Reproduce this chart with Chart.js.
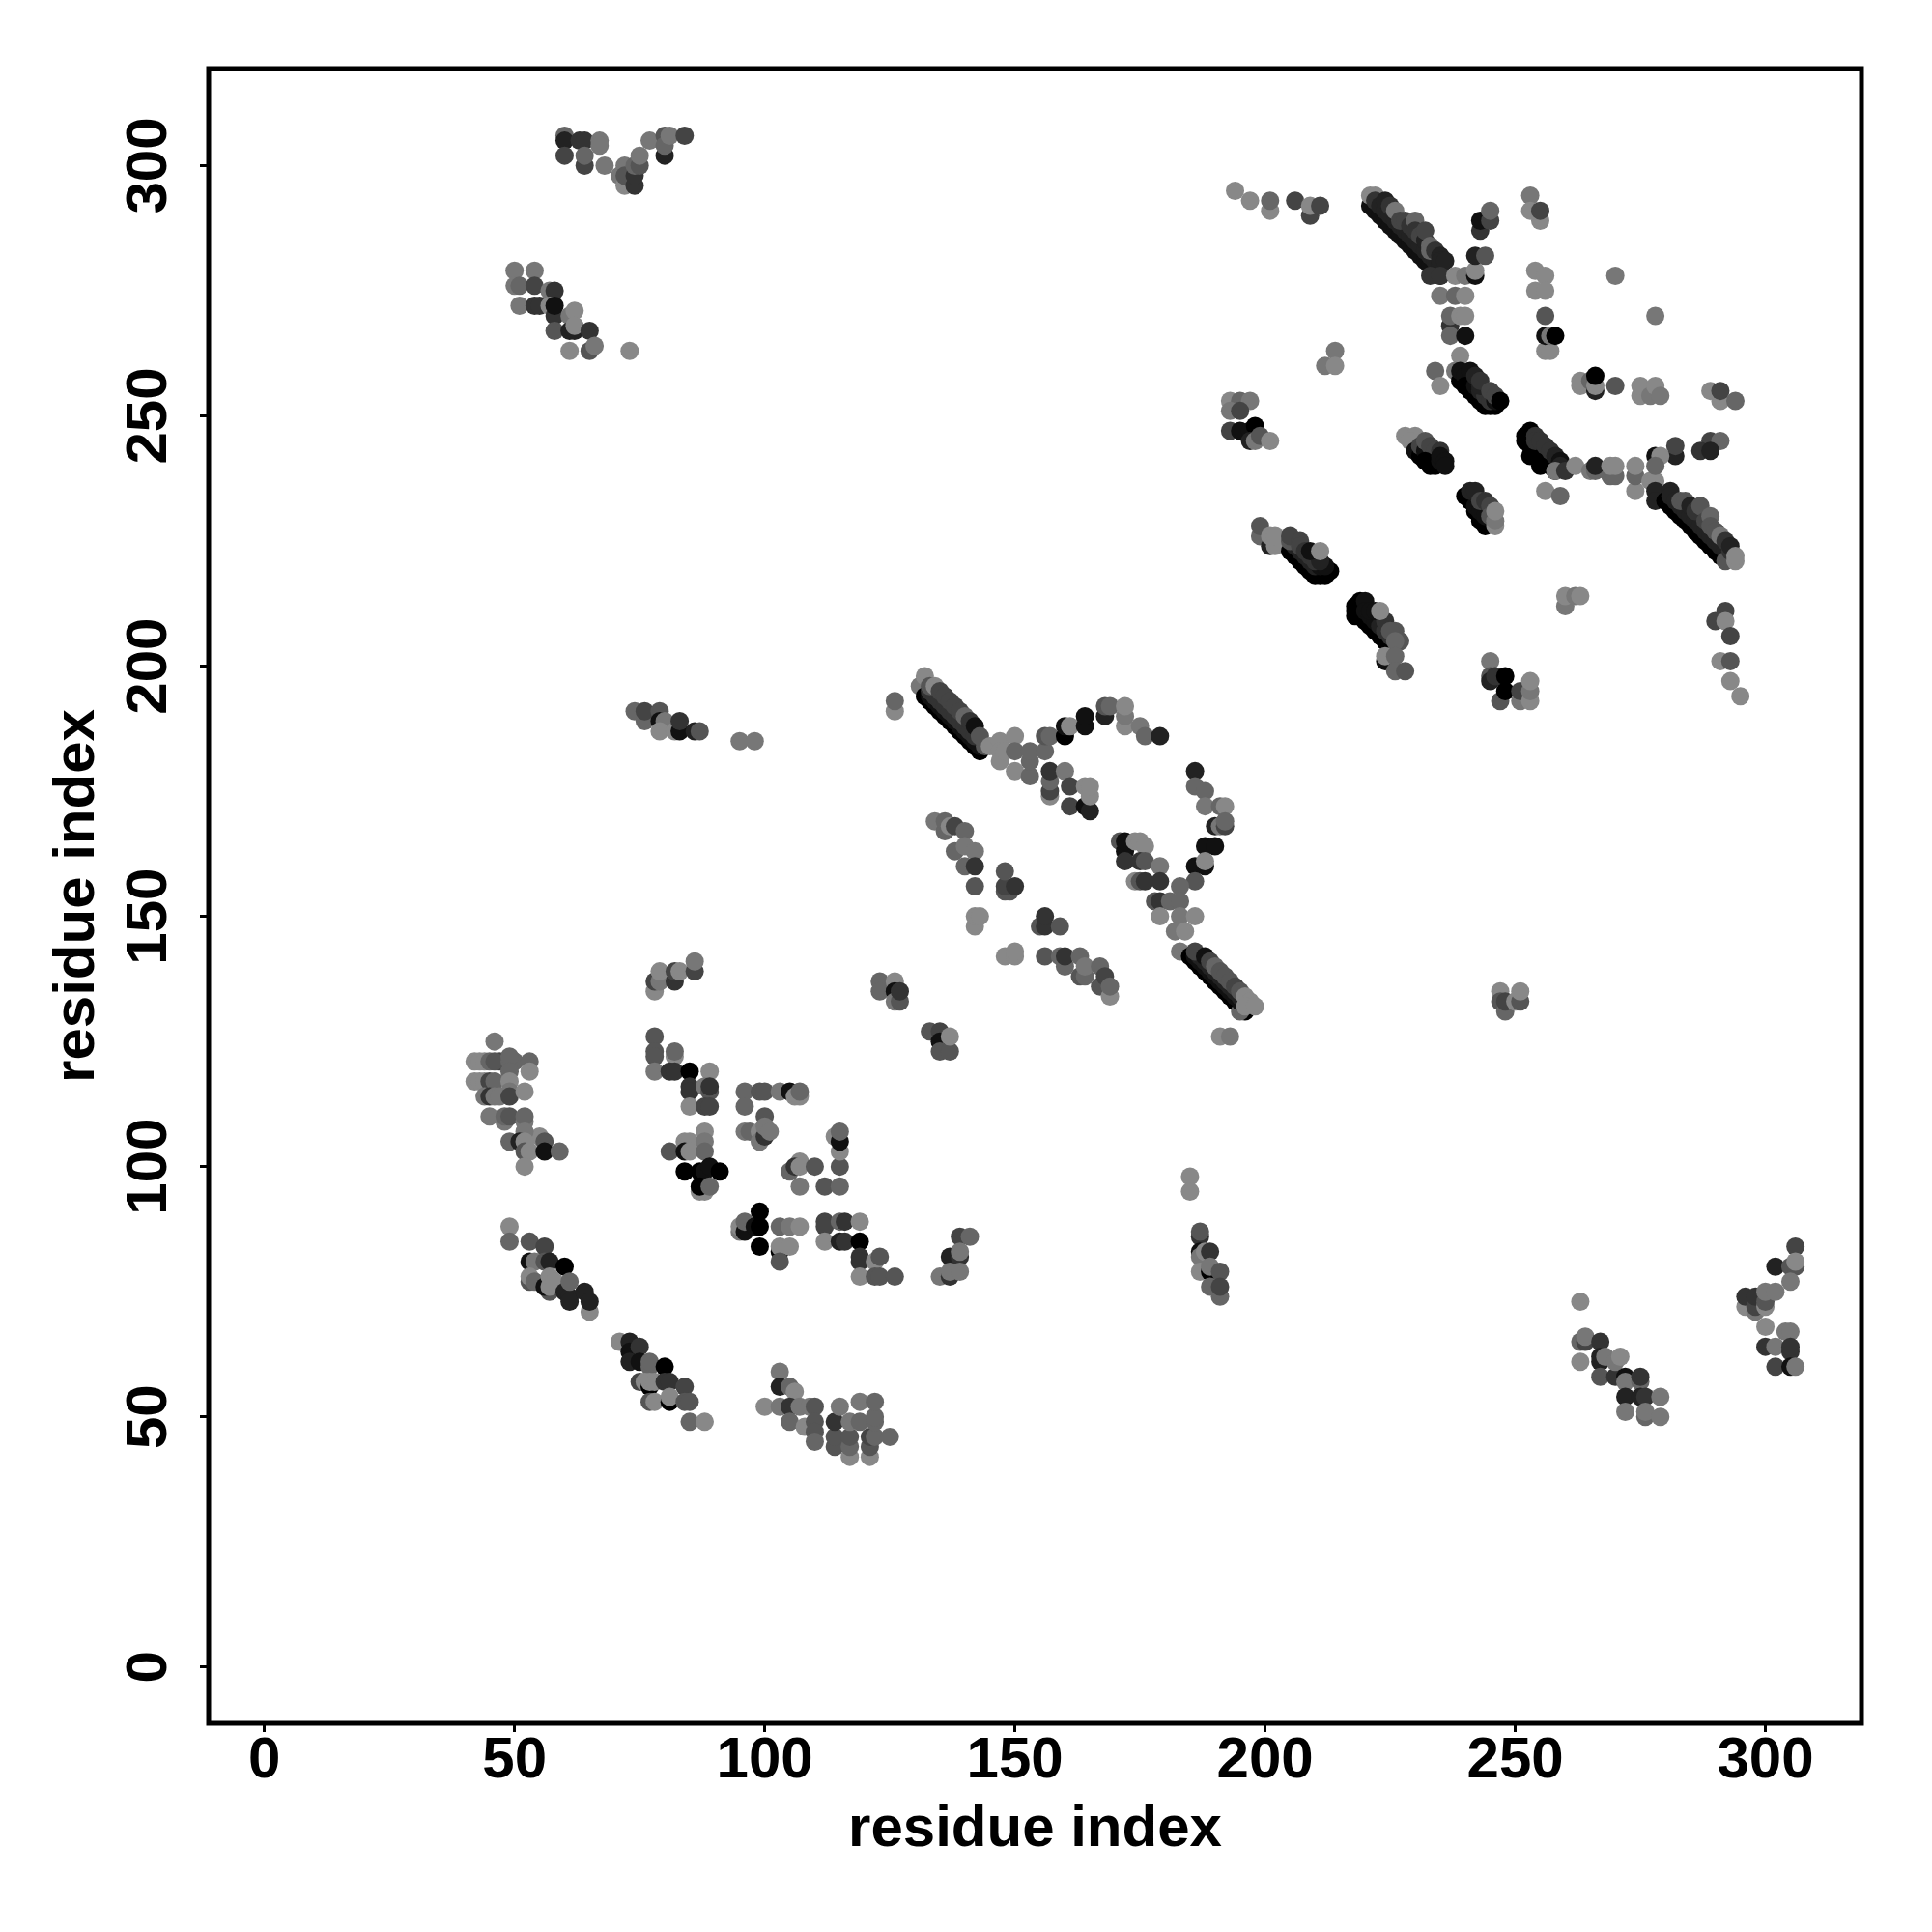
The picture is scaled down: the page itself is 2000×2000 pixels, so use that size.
<!DOCTYPE html>
<html><head><meta charset="utf-8">
<style>html,body{margin:0;padding:0;background:#fff}canvas{display:block}</style>
<script src="https://cdn.jsdelivr.net/npm/chart.js@4"></script>
</head><body><canvas id="c" width="2000" height="2000"></canvas>
<script>
// Each entry: [residue i, residue j, contact tone: 0 darkest .. 8 palest]
const tickValues=[0,50,100,150,200,250,300];
const axisLabel="residue index";
const topLeftA=[[60,306,6],[60,305,2],[60,302,4],[63,305,3],[64,305,3],[67,305,7],[67,304,7],[64,300,4],[64,302,6],[68,300,7],[71,298,7],[72,300,7],[72,296,8],[72,298,5],[74,296,3],[74,298,3],[74,300,6],[75,300,5],[75,302,7],[77,305,7],[80,302,2],[80,306,5],[80,304,6],[81,306,7],[84,306,4]];
const topLeftB=[[50,279,7],[54,279,7],[50,276,7],[51,276,6],[54,276,4],[57,275,7],[58,275,3],[51,272,7],[54,272,3],[55,272,3],[57,272,8],[58,270,3],[58,272,1],[61,270,7],[62,271,8],[58,267,5],[61,267,2],[62,267,2],[62,268,8],[65,267,3],[61,263,8],[65,263,5],[66,264,7],[73,263,8]];
const midLeft=[[74,191,6],[76,189,6],[76,191,4],[79,191,5],[79,189,1],[80,189,7],[79,187,8],[82,187,8],[83,187,1],[83,189,3],[86,187,2],[87,187,5],[95,185,7],[98,185,7],[126,191,8],[126,193,6]];
const rowA=[[78,135,8],[78,137,4],[79,137,7],[79,139,8],[82,137,3],[82,139,4],[83,139,8],[86,139,4],[86,141,7],[123,137,6],[123,135,6],[126,137,8],[126,135,1],[126,133,7],[127,133,5],[127,135,3],[133,127,5],[135,127,4],[135,125,1],[135,123,5],[137,123,5],[137,126,8]];
const groupA=[[46,125,7],[42,121,8],[43,121,8],[44,121,8],[45,121,6],[47,121,4],[46,121,5],[49,121,6],[50,121,6],[49,122,6],[53,121,6],[53,119,8],[49,119,6],[42,117,8],[43,117,8],[44,117,8],[45,117,4],[46,117,6],[49,117,8],[44,114,7],[45,114,3],[46,114,7],[47,114,7],[49,115,7],[49,114,4],[52,115,8],[45,110,7],[48,109,7],[48,110,6],[49,110,5],[52,109,7],[52,110,6],[55,106,8],[52,107,7],[49,105,6],[51,105,2],[52,105,8],[56,105,5],[52,103,5],[53,103,8],[56,103,1],[59,103,6],[52,100,8]];
const groupB=[[78,126,5],[78,123,5],[78,122,5],[82,122,8],[82,123,6],[78,119,7],[81,119,3],[82,119,3],[85,119,0],[89,119,8],[85,116,3],[85,115,3],[88,116,7],[89,115,5],[89,116,3],[85,112,8],[88,112,4],[89,112,4]];
const groupC=[[96,115,6],[99,115,5],[100,115,5],[103,115,7],[105,115,1],[106,114,8],[107,114,8],[107,115,6],[96,112,6],[100,110,5],[96,107,7],[97,107,6],[99,107,8],[99,105,7],[100,106,3],[100,108,7],[101,107,7]];
const groupD=[[81,103,5],[84,105,8],[85,105,8],[84,103,1],[85,103,8],[88,107,8],[88,105,7],[88,103,6],[84,99,0],[87,99,0],[88,99,1],[89,100,1],[91,99,0],[87,95,8],[88,95,8],[87,96,0],[89,96,6]];
const groupE=[[107,101,8],[105,99,6],[106,100,3],[107,100,8],[110,100,5],[107,96,7],[112,96,5],[115,96,6],[115,100,5],[115,103,8],[114,106,8],[115,105,1],[115,107,6]];
const groupF=[[95,87,7],[95,88,8],[96,87,1],[96,89,6],[98,88,1],[99,91,0],[99,88,0],[99,84,0],[103,88,6],[105,88,7],[107,88,8],[103,83,0],[103,84,8],[105,84,8],[103,81,5],[112,89,4],[112,88,4],[115,89,6],[116,89,3],[119,89,8],[112,85,8],[115,85,2],[116,85,3],[119,85,0],[119,82,3],[119,81,3],[122,81,8],[123,82,5],[119,78,8],[122,78,5],[123,78,5],[126,78,5]];
const groupG=[[139,86,4],[141,86,6],[137,82,2],[139,82,3],[139,83,7],[135,78,7],[137,78,3],[137,79,7],[139,79,7]];
const groupH=[[49,88,8],[49,85,6],[53,85,5],[56,84,4],[53,81,1],[54,81,7],[53,77,5],[53,78,8],[54,77,6],[56,81,5],[57,81,2],[60,80,0],[57,75,5],[56,76,1],[57,76,8],[57,78,8],[58,77,8],[60,75,2],[61,74,2],[61,73,2],[61,77,6],[64,75,2],[65,71,8],[65,73,2]];
const groupI=[[71,65,8],[73,65,2],[73,63,1],[75,64,3],[73,61,2],[75,61,1],[77,60,6],[77,61,6],[80,60,0],[75,57,4],[76,57,8],[77,56,0],[77,57,8],[78,57,8],[80,57,3],[81,57,3],[84,56,4],[77,53,5],[78,53,8],[81,53,0],[81,54,8],[84,53,5],[85,53,5],[85,49,6],[88,49,8]];
const groupJ=[[103,59,7],[103,56,2],[105,56,6],[106,55,8],[100,52,8],[103,52,7],[105,52,3],[107,52,7],[109,52,7],[110,52,5],[105,49,6],[108,48,8],[110,49,5],[110,47,5],[110,45,6],[114,44,5],[114,46,5],[114,49,3],[115,52,7],[117,42,8],[117,44,6],[117,46,5],[117,49,7],[119,49,6],[119,53,7],[121,42,8],[121,44,5],[121,46,4],[122,46,6],[122,49,6],[122,50,6],[122,53,6],[125,46,6]];
const centreBandA=[[131,196,7],[132,198,8],[132,194,0],[133,193,0],[134,192,0],[135,191,0],[136,190,0],[137,189,0],[138,188,0],[139,187,0],[140,186,0],[141,185,0],[142,184,0],[143,183,0],[133,194,1],[134,193,1],[135,192,1],[136,191,1],[137,190,1],[138,189,1],[139,188,1],[140,187,1],[141,186,1],[142,185,1],[143,184,1],[133,195,3],[134,194,3],[135,193,3],[136,192,3],[137,191,3],[138,190,3],[139,189,3],[140,188,3],[141,187,3],[142,186,3],[144,184,5],[133,196,5],[134,196,8],[135,195,4],[136,194,4],[137,193,4],[138,192,4],[139,191,4],[140,190,6],[141,189,3],[142,188,1],[143,186,5]];
const centreRidge=[[145,184,8],[147,185,8],[147,183,8],[147,181,8],[148,183,8],[150,186,8],[150,179,8],[150,183,6],[153,178,6],[153,181,6],[153,183,6],[156,183,6],[156,186,5],[157,186,6],[157,174,8],[157,175,4],[157,177,6],[157,179,3],[160,179,7],[160,186,0],[160,188,1],[161,188,8],[161,172,4],[161,176,4],[164,172,1],[165,171,2],[164,176,8],[165,174,8],[165,176,8],[164,188,1],[164,190,1],[168,190,2],[168,192,5],[169,192,6],[172,188,8],[172,190,7],[172,192,8],[175,188,7],[176,186,6],[179,186,2]];
const centreLeft=[[134,169,7],[136,167,6],[136,169,6],[137,168,8],[138,168,4],[140,167,6],[138,163,6],[140,164,7],[142,163,7],[140,160,6],[142,160,3],[142,156,5],[148,155,5],[149,155,5],[148,156,4],[148,159,5],[150,156,3],[142,148,8],[142,150,8],[143,150,8],[148,142,8],[150,142,8],[150,143,8],[155,148,5],[156,148,3],[156,150,3],[159,148,5]];
const centreLower=[[156,142,5],[159,142,6],[160,140,6],[160,142,3],[163,138,5],[163,142,6],[164,138,6],[164,140,7],[167,136,5],[167,140,6],[168,138,4],[169,134,8],[169,136,6]];
const crossArm=[[186,179,2],[186,176,6],[188,175,6],[188,172,7],[191,172,6],[192,172,8],[190,168,2],[191,168,7],[192,168,4],[192,169,6],[188,164,1],[190,164,1],[186,160,1],[188,160,1],[188,161,8],[186,157,5],[183,156,6]];
const crossLeft=[[171,165,5],[172,163,1],[172,165,1],[174,165,8],[175,165,8],[176,164,8],[172,161,3],[175,161,3],[176,161,5],[179,160,7],[174,157,8],[175,157,5],[176,157,3],[179,157,3],[178,153,5],[179,153,3],[181,153,6],[183,153,6],[179,150,8],[183,150,7],[186,150,8],[182,147,7],[184,147,8],[183,143,7]];
const centreBandB=[[185,142,0],[186,141,0],[187,140,0],[188,139,0],[189,138,0],[190,137,0],[191,136,0],[192,135,0],[193,134,0],[194,133,0],[195,132,0],[196,131,0],[195,131,6],[186,142,1],[187,141,1],[188,140,1],[189,139,1],[190,138,1],[191,137,1],[192,136,1],[193,135,1],[194,134,1],[195,133,1],[187,142,2],[188,141,2],[189,140,2],[190,139,2],[191,138,2],[192,137,2],[193,136,2],[194,135,2],[195,134,2],[196,133,2],[186,143,4],[188,142,1],[189,141,4],[190,140,6],[191,139,5],[192,138,5],[193,137,5],[194,136,4],[195,135,5],[196,134,8],[197,133,8],[196,132,8],[198,132,8],[191,126,8],[193,126,7]];
const colA=[[185,98,8],[185,95,8],[187,86,3],[187,87,5],[187,83,1],[187,82,7],[188,83,8],[189,83,3],[187,79,8],[189,79,0],[189,80,7],[191,79,5],[189,76,6],[191,74,6],[191,76,4],[247,135,8],[247,133,5],[248,131,6],[248,133,4],[250,133,8],[251,133,5],[251,135,8]];
const lowerRightA=[[263,73,8],[263,65,6],[264,65,4],[264,66,7],[263,61,8],[267,65,3],[267,61,2],[267,62,2],[268,62,7],[267,58,5],[270,58,3],[270,61,7],[271,62,8],[272,58,1],[272,57,7],[272,54,2],[275,57,6],[275,58,3],[275,54,2],[276,54,3],[279,54,7],[272,51,7],[276,50,6],[276,51,7],[279,50,7]];
const lowerRightB=[[306,84,4],[302,80,2],[305,80,5],[306,80,5],[306,81,8],[305,77,7],[296,72,8],[296,74,3],[298,71,7],[298,72,4],[298,74,3],[300,72,8],[300,73,5],[300,75,7],[302,75,7],[300,68,8],[304,67,7],[305,67,7],[300,64,3],[302,64,7],[305,63,3],[305,64,3],[302,60,4],[305,60,1],[306,60,7]];
const upperStrip=[[194,295,8],[197,293,8],[201,291,8],[201,293,6],[206,293,4],[209,290,4],[209,292,8],[211,292,4]];
const upperBand=[[221,292,1],[222,291,1],[223,290,1],[224,289,1],[225,288,1],[226,287,1],[227,286,1],[228,285,1],[229,284,1],[230,283,1],[231,282,1],[232,281,1],[233,280,1],[234,279,1],[235,278,1],[221,294,8],[222,294,8],[222,293,3],[223,292,2],[224,291,2],[225,290,2],[226,289,2],[227,288,2],[228,287,2],[229,286,2],[230,285,2],[231,284,2],[232,283,2],[233,282,2],[234,281,2],[235,280,2],[224,293,2],[225,292,3],[226,291,7],[227,289,4],[228,289,4],[229,288,3],[230,289,6],[230,287,3],[231,286,4],[232,285,2],[232,287,4],[233,284,6],[233,283,6],[234,283,3],[235,282,2],[235,281,2],[236,281,2]];
const upperFork=[[233,278,3],[235,278,3],[235,274,7],[238,274,6],[238,278,8],[240,274,8],[240,278,7],[242,278,1],[242,279,8],[242,282,2],[244,282,5],[243,287,3],[243,289,1],[245,289,4],[245,291,6],[237,268,3],[237,270,6],[239,270,8],[240,270,8],[237,266,6],[240,266,1],[239,262,8],[234,259,6],[235,256,8],[238,259,7],[239,257,0],[239,259,1],[240,258,1],[241,257,1],[241,259,1],[240,256,0],[241,255,0],[242,254,0],[243,253,0],[244,252,0],[245,252,0],[246,252,0],[242,256,1],[243,255,2],[244,254,3],[245,253,3],[246,253,1],[242,258,2],[243,256,2],[243,257,3],[245,255,4],[246,254,4],[247,253,0]];
const upperRightCol=[[253,294,7],[253,291,8],[255,289,8],[255,291,4],[254,279,8],[254,275,8],[256,278,8],[256,275,8],[256,270,5],[256,263,8],[257,263,8],[256,266,1],[257,266,7],[258,266,0],[270,278,7],[278,270,7],[214,263,7],[212,260,7],[214,260,8]];
const upperRow=[[263,256,8],[263,257,8],[265,257,6],[266,255,2],[266,256,8],[266,258,0],[270,256,5],[275,254,8],[275,256,8],[277,254,7],[278,256,8],[279,254,7],[289,255,8],[291,253,8],[291,255,4],[294,253,6],[289,245,4],[291,245,6],[287,243,3],[289,243,2],[282,242,2],[282,244,4],[278,242,1],[279,242,8]];
const block250=[[193,253,8],[195,253,6],[197,253,7],[193,251,7],[195,251,4],[193,247,4],[195,247,1],[197,247,1],[198,248,0],[197,245,2],[198,245,7],[199,246,5],[201,245,8]];
const midBand=[[228,246,8],[230,246,8],[231,245,8],[229,245,8],[230,243,1],[231,242,0],[233,240,0],[231,244,4],[232,243,1],[233,242,1],[234,241,1],[232,245,5],[233,244,4],[234,243,4],[235,243,3],[232,241,0],[234,240,0],[235,241,1],[235,242,1],[236,241,1],[236,240,1]];
const midBand2=[[240,234,0],[241,233,0],[242,231,0],[243,229,0],[244,228,0],[241,234,0],[242,232,1],[243,231,1],[244,230,1],[241,235,2],[242,235,2],[243,233,4],[244,233,3],[245,232,4],[245,230,5],[246,228,8],[246,229,7],[246,231,8]];
const lowerRun=[[252,245,0],[252,246,0],[253,244,0],[254,243,0],[255,242,0],[256,241,0],[257,240,0],[258,239,0],[253,242,0],[255,240,0],[253,247,0],[254,246,3],[254,245,3],[255,245,3],[256,244,3],[257,243,3],[258,242,2],[259,241,1],[259,240,2],[258,239,7],[260,239,3],[262,240,8],[256,235,8],[259,234,6],[265,239,7],[266,239,6],[266,240,2],[269,238,6],[270,238,6],[269,240,8],[270,240,8],[274,235,8],[274,238,6],[274,240,8],[277,237,8],[278,237,8],[278,240,6],[278,235,2],[278,233,2],[281,235,2]];
const lowerBand=[[280,233,0],[281,232,0],[282,231,0],[283,230,0],[284,229,0],[285,228,0],[286,227,0],[287,226,0],[288,225,0],[289,224,0],[290,223,0],[291,222,0],[281,234,2],[282,233,2],[283,232,2],[284,231,2],[285,230,2],[286,229,2],[287,228,2],[288,227,2],[289,226,2],[290,225,2],[291,224,2],[292,223,2],[292,221,5],[283,233,5],[284,233,5],[285,232,2],[286,231,3],[287,232,5],[288,229,4],[289,230,6],[289,228,5],[290,227,5],[291,226,7],[292,225,3],[293,223,3],[293,224,2],[294,221,8],[294,222,8]];
const sideRight=[[260,212,7],[260,214,8],[262,214,7],[263,214,8],[292,211,4],[290,209,4],[292,209,8],[293,206,4],[291,201,8],[293,201,5],[293,197,8],[295,194,8]];
const band220=[[199,226,6],[199,228,5],[201,224,2],[201,226,8],[202,224,8],[202,226,8],[205,223,0],[206,222,0],[207,221,0],[208,220,0],[209,219,0],[210,218,0],[211,218,0],[212,218,0],[213,219,0],[212,219,0],[206,224,2],[207,223,2],[208,222,2],[209,221,2],[210,220,2],[211,220,1],[212,220,1],[205,225,5],[205,226,4],[207,225,4],[207,224,4],[208,223,3],[209,222,3],[210,221,3],[211,221,2],[209,223,1],[211,223,8]];
const band205=[[218,212,0],[218,211,0],[218,210,0],[219,213,0],[219,212,0],[220,209,0],[221,208,0],[222,207,0],[223,206,0],[224,205,0],[225,204,0],[220,213,1],[220,211,1],[221,210,1],[222,209,1],[223,208,2],[224,207,3],[225,206,3],[221,211,1],[222,211,1],[224,209,3],[223,211,8],[226,207,5],[225,207,5],[227,205,5],[226,205,6],[224,201,1],[224,202,8],[226,202,6],[226,199,6],[228,199,5]];
const block197=[[245,201,7],[245,198,5],[245,197,2],[246,198,3],[247,193,5],[248,195,0],[248,198,0],[251,193,7],[251,195,4],[253,193,8],[253,195,7],[253,197,8]];

const clusters=[topLeftA,topLeftB,midLeft,rowA,groupA,groupB,groupC,groupD,groupE,groupF,groupG,groupH,groupI,groupJ,centreBandA,centreRidge,centreLeft,centreLower,crossArm,crossLeft,centreBandB,colA,lowerRightA,lowerRightB,upperStrip,upperBand,upperFork,upperRightCol,upperRow,block250,midBand,midBand2,lowerRun,lowerBand,sideRight,band220,band205,block197];
const contacts=clusters.flat();

const frame={id:'frame',afterDatasetsDraw(ch){const {left,top,width,height}=ch.chartArea,c=ch.ctx;c.save();c.strokeStyle='#000';c.lineWidth=5;c.lineJoin='miter';c.strokeRect(left,top,width,height);c.restore();}};
const font={family:'"Liberation Sans"',weight:'bold',size:60,lineHeight:1};
const setTicks=s=>{s.ticks=tickValues.map(v=>({value:v}));};
const gridOpts={display:true,drawOnChartArea:false,drawTicks:true,tickLength:9,tickWidth:3,tickColor:'#000'};
new Chart(document.getElementById('c'),{
 type:'scatter',
 data:{datasets:[{data:contacts.map(p=>({x:p[0],y:p[1]})),
   backgroundColor:contacts.map(p=>{const g=p[2]*17;return `rgb(${g},${g},${g})`;}),
   pointRadius:9.5,pointHoverRadius:9.5,borderWidth:0,pointBorderWidth:0}]},
 plugins:[frame],
 options:{responsive:false,animation:false,events:[],devicePixelRatio:1,
  layout:{padding:{top:71,right:73,left:0,bottom:0}},
  plugins:{legend:{display:false},tooltip:{enabled:false}},
  scales:{
   x:{type:'linear',min:-11.14,max:319.2,afterBuildTicks:setTicks,afterFit:s=>{s.height=216;},
      border:{display:false},grid:gridOpts,
      ticks:{autoSkip:false,maxRotation:0,minRotation:0,color:'#000',font,padding:0,callback:v=>String(v)},
      title:{display:true,text:axisLabel,color:'#000',font,padding:{top:0,bottom:76}}},
   y:{type:'linear',min:-11.25,max:319.4,afterBuildTicks:setTicks,afterFit:s=>{s.width=216;},
      border:{display:false},grid:gridOpts,
      ticks:{autoSkip:false,minRotation:90,maxRotation:90,crossAlign:'center',color:'#000',font,padding:1,callback:v=>String(v)},
      title:{display:true,text:axisLabel,color:'#000',font,padding:{top:50,bottom:0}}}
  }
 }
});
</script></body></html>
